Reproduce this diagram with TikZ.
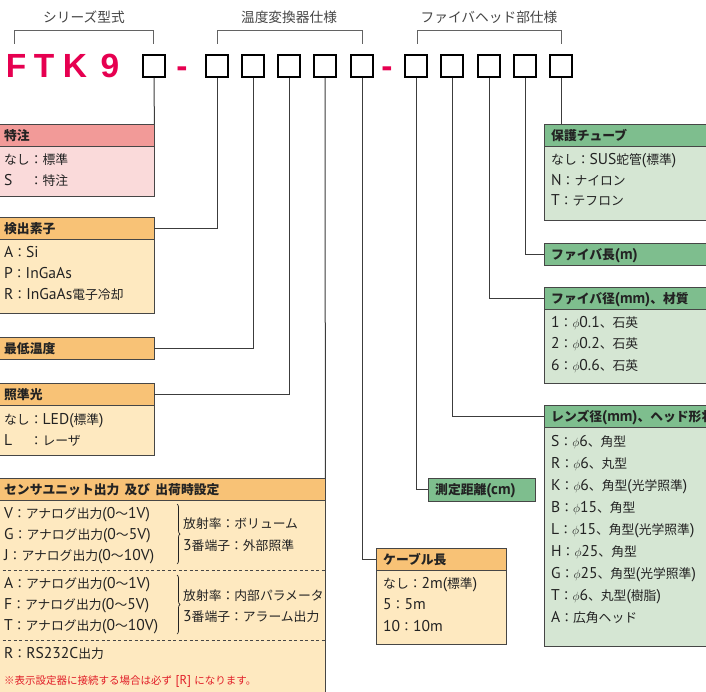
\documentclass[tikz,border=0pt]{standalone}
\usepackage{fontspec}
\newfontfamily\jp{Noto Sans CJK JP}
\newfontfamily\latin{PT Sans}[Scale=1.22]
\newfontfamily\codefont{Liberation Sans}
\usetikzlibrary{decorations.pathreplacing}

% CJK characters switch to the Japanese font, the rest stays Latin
\XeTeXinterchartokenstate=1
\newXeTeXintercharclass\cjkcls
\count255="2E80
\loop\ifnum\count255<"A000 \XeTeXcharclass\count255=\cjkcls \advance\count255 by 1 \repeat
\count255="FF00
\loop\ifnum\count255<"FFF0 \XeTeXcharclass\count255=\cjkcls \advance\count255 by 1 \repeat
\XeTeXcharclass"203B=\cjkcls
\XeTeXinterchartoks 0 \cjkcls = {\begingroup\jp}
\XeTeXinterchartoks 4095 \cjkcls = {\begingroup\jp}
\XeTeXinterchartoks \cjkcls 0 = {\endgroup}
\XeTeXinterchartoks \cjkcls 4095 = {\endgroup}

\definecolor{edge}{RGB}{70,70,70}
\definecolor{wire}{RGB}{60,60,60}
\definecolor{ink}{RGB}{35,35,35}
\definecolor{codered}{RGB}{230,0,80}
\definecolor{notered}{RGB}{225,30,40}
\definecolor{pinkH}{RGB}{242,154,152}
\definecolor{pinkB}{RGB}{250,218,218}
\definecolor{orangeH}{RGB}{248,194,118}
\definecolor{orangeB}{RGB}{254,233,192}
\definecolor{greenH}{RGB}{126,190,142}
\definecolor{greenB}{RGB}{213,230,211}

\begin{document}
\begin{tikzpicture}[x=1pt,y=-1pt,
every node/.style={font=\latin\fontsize{12.8}{15}\selectfont,text=ink}]
\tikzstyle{codebox}=[draw=black,line width=1.6pt,minimum size=22pt,inner sep=0pt]
\tikzstyle{bigletter}=[anchor=base,inner sep=0pt,text=codered,font=\codefont\bfseries\fontsize{33.5}{36}\selectfont]
\tikzstyle{grouplabel}=[inner sep=0pt,text=ink!85,font=\latin\fontsize{13.7}{16}\selectfont]
\tikzstyle{hdr}=[draw=edge,anchor=north west,minimum height=22pt,inner xsep=7pt,inner ysep=0pt,
  text height=11.5pt,text depth=1.5pt,align=left,font=\latin\bfseries\fontsize{12.8}{15}\selectfont]
\tikzstyle{bodybox}=[draw=edge,anchor=north west,inner xsep=7pt,inner ysep=0pt]
\tikzstyle{txt}=[anchor=west,inner sep=0pt,text height=11.5pt,text depth=1.5pt]
\tikzstyle{lead}=[draw=wire,line width=1pt]
\tikzstyle{bracemark}=[draw=ink,line width=0.7pt,decorate,decoration={brace,amplitude=3pt}]
\tikzstyle{dashline}=[draw=edge,line width=0.9pt,dash pattern=on 3pt off 2.5pt]

\useasboundingbox (0,0) rectangle (706,692);
\clip (0,0) rectangle (706,692);

% model code
\foreach \ch/\x in {F/16,T/44,K/75,9/110}
  \node[bigletter] (\ch) at (\x,78) {\ch};
\node[bigletter] (d1) at (182,78) {-};
\node[bigletter] (d2) at (387,78) {-};
\foreach \n/\x in {1/154,2/217,3/253,4/289,5/325,6/362,7/416,8/452,9/489,10/525,11/561}
  \node[codebox] (c\n) at (\x,66) {};

% groups
\node[grouplabel] (series) at (84,17) {シリーズ型式};
\node[grouplabel] (conv) at (289,17) {温度変換器仕様};
\node[grouplabel] (head) at (489,17) {ファイバヘッド部仕様};
\draw[lead,draw=wire!80] (14,44) -- (14,31) -- (153,31) -- (153,44);
\draw[lead,draw=wire!80] (217,44) -- (217,31) -- (362,31) -- (362,44);
\draw[lead,draw=wire!80] (417,44) -- (417,31) -- (561,31) -- (561,44);

% left side
\node[hdr,fill=pinkH,text width=143pt] (tokuchu) at (-3,124) {特注};
\node[bodybox,fill=pinkB,text width=143pt,minimum height=50pt] (tokuchu-b) at (tokuchu.south west) {};
\foreach \t [count=\i from 0] in {なし：標準,\makebox[25.6pt][l]{S}：特注}
  \node[txt] (tok-\i) at (4,{160+21*\i}) {\t};

\node[hdr,fill=orangeH,text width=143pt] (kenshutsu) at (-3,217) {検出素子};
\node[bodybox,fill=orangeB,text width=143pt,minimum height=74pt] (kenshutsu-b) at (kenshutsu.south west) {};
\foreach \t [count=\i from 0] in {A：Si,P：InGaAs,R：InGaAs電子冷却}
  \node[txt] (ken-\i) at (4,{253+21*\i}) {\t};

\node[hdr,fill=orangeH,text width=143pt] (saitei) at (-3,337) {最低温度};

\node[hdr,fill=orangeH,text width=143pt] (shojun) at (-3,383) {照準光};
\node[bodybox,fill=orangeB,text width=143pt,minimum height=50pt] (shojun-b) at (shojun.south west) {};
\foreach \t [count=\i from 0] in {なし：LED(標準),\makebox[25.6pt][l]{L}：レーザ}
  \node[txt] (sho-\i) at (4,{419+21*\i}) {\t};

\node[hdr,fill=orangeH,text width=314pt] (sensor) at (-3,478) {センサユニット出力 及び 出荷時設定};
\node[bodybox,fill=orangeB,text width=314pt,minimum height=200pt] (sensor-b) at (sensor.south west) {};
\foreach \t [count=\i from 0] in {V：アナログ出力(0〜1V),G：アナログ出力(0〜5V),J：アナログ出力(0〜10V)}
  \node[txt] (sa-\i) at (4,{513+21.4*\i}) {\t};
\draw[bracemark] (177,504) -- (177,564);
\node[txt] (sa-r1) at (183,523) {放射率：ボリューム};
\node[txt] (sa-r2) at (183,545) {3番端子：外部照準};
\draw[dashline] (-3,570) -- (325,570);
\foreach \t [count=\i from 0] in {A：アナログ出力(0〜1V),F：アナログ出力(0〜5V),T：アナログ出力(0〜10V)}
  \node[txt] (sb-\i) at (4,{583+21.2*\i}) {\t};
\draw[bracemark] (177,575) -- (177,634);
\node[txt] (sb-r1) at (183,595) {放射率：内部パラメータ};
\node[txt] (sb-r2) at (183,616) {3番端子：アラーム出力};
\draw[dashline] (-3,640) -- (325,640);
\node[txt] (sc) at (4,653) {R：RS232C出力};
\node[txt,text=notered,font=\latin\fontsize{10.5}{12}\selectfont] (note) at (4,679) {※表示設定器に接続する場合は必ず [R] になります。};

% middle
\node[hdr,fill=orangeH,text width=116pt] (cable) at (376,548) {ケーブル長};
\node[bodybox,fill=orangeB,text width=116pt,minimum height=74pt] (cable-b) at (cable.south west) {};
\foreach \t [count=\i from 0] in {なし：2m(標準),5：5m,10：10m}
  \node[txt] (cab-\i) at (383,{583+21.5*\i}) {\t};

\node[hdr,fill=greenH,text width=93pt,minimum height=23pt] (kyori) at (428,478) {測定距離(cm)};

% right side
\node[hdr,fill=greenH,text width=162pt] (hogo) at (544,124) {保護チューブ};
\node[bodybox,fill=greenB,text width=162pt,minimum height=74pt] (hogo-b) at (hogo.south west) {};
\foreach \t [count=\i from 0] in {なし：SUS蛇管(標準),N：ナイロン,T：テフロン}
  \node[txt] (hog-\i) at (551,{160+20.3*\i}) {\t};

\node[hdr,fill=greenH,text width=162pt] (flen) at (544,243) {ファイバ長(m)};

\node[hdr,fill=greenH,text width=162pt] (fdia) at (544,287) {ファイバ径(mm)、材質};
\node[bodybox,fill=greenB,text width=162pt,minimum height=74pt] (fdia-b) at (fdia.south west) {};
\foreach \t [count=\i from 0] in {1：$\phi$0.1、石英,2：$\phi$0.2、石英,6：$\phi$0.6、石英}
  \node[txt] (fd-\i) at (551,{322+21.5*\i}) {\t};

\node[hdr,fill=greenH,text width=162pt] (lens) at (544,405) {レンズ径(mm)、ヘッド形状};
\node[bodybox,fill=greenB,text width=162pt,minimum height=219pt] (lens-b) at (lens.south west) {};
\foreach \t [count=\i from 0] in {S：$\phi$6、角型,R：$\phi$6、丸型,K：$\phi$6、角型(光学照準),
    B：$\phi$15、角型,L：$\phi$15、角型(光学照準),H：$\phi$25、角型,
    G：$\phi$25、角型(光学照準),T：$\phi$6、丸型(樹脂),A：広角ヘッド}
  \node[txt] (len-\i) at (551,{441+22.1*\i}) {\t};

% leads
\draw[lead] (c1.south) -- (tokuchu.north east);
\draw[lead] (c2.south) |- (kenshutsu.east);
\draw[lead] (c3.south) |- (saitei.east);
\draw[lead] (c4.south) |- (shojun.east);
\draw[lead] (c5.south) -- (sensor.north east);
\draw[lead] (c6.south) |- (cable.west);
\draw[lead] (c7.south) |- (kyori.west);
\draw[lead] (c8.south) |- (lens.west);
\draw[lead] (c9.south) |- (fdia.west);
\draw[lead] (c10.south) |- (flen.west);
\draw[lead] (c11.south) -- (c11.south |- hogo.north);
\end{tikzpicture}
\end{document}
